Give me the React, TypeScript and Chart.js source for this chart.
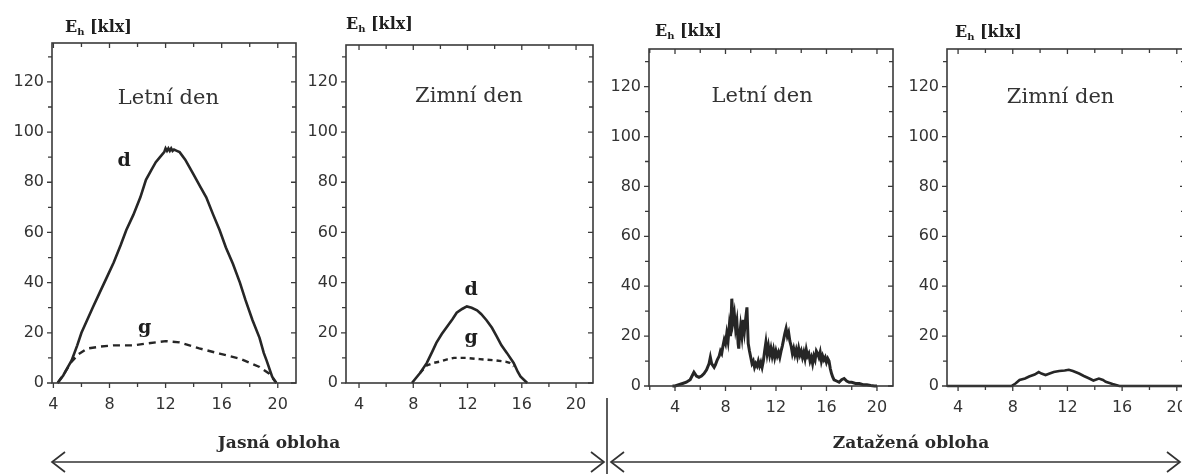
import React, { useEffect, useRef } from 'react';
import { Chart, registerables } from 'chart.js';

Chart.register(...registerables);

type Pt = [number, number];

// ---------- tick values ----------
const yTickLabels = [0, 20, 40, 60, 80, 100, 120];
const yMinorTicks = [10, 30, 50, 70, 90, 110, 130];
const xTickLabels = [4, 8, 12, 16, 20];
const xMinorTicks = [2, 6, 10, 14, 18];

// ---------- texts ----------
const axisMain = 'E';
const axisSub = 'h';
const axisUnit = ' [klx]';
const panelTitles = ['Letní den', 'Zimní den', 'Letní den', 'Zimní den'];
const curveLabels = ['d', 'g'];
const groupLabels = ['Jasná obloha', 'Zatažená obloha'];

// ---------- data: [hour, klx] ----------
const clearSummerDirect: Pt[] = [
  [4.3, 0], [4.7, 3], [5.0, 6], [5.3, 9], [5.7, 15], [6.0, 20], [6.4, 25], [6.8, 30],
  [7.3, 36], [7.8, 42], [8.3, 48], [8.8, 55], [9.2, 61], [9.7, 67], [10.2, 74], [10.6, 81],
  [11.0, 85], [11.3, 88], [11.6, 90], [11.9, 92], [12.0, 93.5], [12.1, 92.5], [12.2, 93.5],
  [12.3, 92.5], [12.4, 93.5], [12.5, 92.5], [12.6, 93], [12.8, 92.5], [13.0, 92],
  [13.4, 89], [13.7, 86], [14.0, 83], [14.5, 78], [14.9, 74], [15.4, 67], [15.85, 61],
  [16.3, 54], [16.8, 47.5], [17.3, 40], [17.7, 33], [18.2, 25], [18.7, 18], [19.0, 12],
  [19.2, 9], [19.6, 2.5], [19.9, 0],
];
const clearSummerDiffuse: Pt[] = [
  [4.3, 0], [4.8, 4], [5.3, 8.5], [5.8, 11.5], [6.4, 13.7], [7.3, 14.5], [8.3, 15],
  [9.7, 15], [10.6, 15.7], [12.0, 16.7], [13.0, 16.2], [14.4, 13.8], [15.85, 11.7],
  [17.3, 9.7], [18.7, 6.4], [19.4, 3.7], [19.9, 0],
];
const clearWinterDirect: Pt[] = [
  [7.9, 0], [8.2, 2], [8.5, 4], [9.0, 8], [9.4, 12.5], [9.7, 16], [10.1, 19.5],
  [10.5, 22.5], [10.9, 25.5], [11.2, 28], [11.6, 29.5], [11.95, 30.5], [12.3, 30],
  [12.7, 29], [13.0, 27.5], [13.4, 25], [13.8, 22], [14.15, 18.6], [14.5, 15], [14.9, 12],
  [15.4, 8], [15.7, 4.5], [15.9, 2.6], [16.4, 0],
];
const clearWinterDiffuse: Pt[] = [
  [8.5, 4], [9.0, 7], [9.5, 8], [10.0, 8.6], [10.5, 9.4], [11.0, 10], [11.9, 10],
  [12.9, 9.5], [14.1, 9], [14.8, 8.5], [15.1, 8], [15.4, 6.6],
];
const overcastSummer: Pt[] = [
  [3.8, 0], [4.0, 0], [4.3, 0.5], [4.6, 1], [4.9, 1.5], [5.2, 2.5], [5.4, 4.5], [5.5, 5.5],
  [5.7, 4], [5.9, 3.5], [6.1, 4], [6.3, 5], [6.5, 6.5], [6.7, 9], [6.8, 11.5], [6.9, 9],
  [7.1, 7.5], [7.2, 8.5], [7.35, 10.5], [7.5, 12], [7.6, 14], [7.7, 13], [7.8, 16],
  [7.9, 18.5], [8.0, 17], [8.1, 21], [8.2, 18], [8.3, 24], [8.4, 20], [8.5, 35],
  [8.55, 30], [8.6, 26], [8.7, 29], [8.8, 23], [8.9, 26], [9.0, 17], [9.05, 15], [9.1, 19],
  [9.2, 24], [9.3, 20], [9.4, 26.5], [9.5, 22], [9.6, 27], [9.7, 31.5], [9.75, 24],
  [9.8, 17], [9.9, 14], [10.0, 11.5], [10.1, 9], [10.2, 10], [10.3, 7.5], [10.4, 9],
  [10.5, 8], [10.6, 10], [10.7, 8], [10.8, 9.5], [10.9, 7.5], [11.0, 10], [11.1, 14],
  [11.2, 17.5], [11.3, 13], [11.4, 16], [11.5, 12.5], [11.6, 15], [11.7, 12], [11.8, 14.5],
  [11.9, 11.5], [12.0, 14], [12.1, 12], [12.2, 13.5], [12.3, 11.5], [12.4, 14], [12.5, 16],
  [12.6, 18.5], [12.7, 21], [12.8, 23], [12.9, 20], [13.0, 21.5], [13.1, 18], [13.2, 16],
  [13.3, 13], [13.4, 15], [13.5, 12.5], [13.6, 14.5], [13.7, 12], [13.8, 15], [13.9, 12.5],
  [14.0, 14], [14.1, 11.5], [14.2, 13.5], [14.3, 11], [14.4, 14.5], [14.5, 12], [14.6, 13],
  [14.7, 10], [14.8, 11.5], [14.9, 9], [15.0, 12], [15.1, 10.5], [15.2, 14], [15.3, 13],
  [15.4, 11.5], [15.5, 13.5], [15.6, 10], [15.7, 12], [15.8, 10.5], [15.9, 11.5],
  [16.0, 9.5], [16.1, 11], [16.2, 10], [16.3, 7], [16.4, 5], [16.5, 3.5], [16.6, 2.5],
  [16.8, 2], [17.0, 1.5], [17.2, 2.5], [17.4, 3], [17.6, 2], [17.8, 1.5], [18.0, 1.5],
  [18.3, 1], [18.6, 1], [18.9, 0.5], [19.2, 0.5], [19.5, 0.2], [19.8, 0], [20.0, 0],
];
const overcastWinter: Pt[] = [
  [3.2, 0], [7.9, 0], [8.2, 1], [8.5, 2.4], [8.9, 3], [9.2, 3.8], [9.6, 4.6], [9.9, 5.6],
  [10.1, 5], [10.4, 4.4], [10.7, 5], [11.0, 5.6], [11.4, 6], [11.8, 6.2], [12.1, 6.5],
  [12.4, 6], [12.85, 5], [13.2, 4], [13.6, 3], [13.9, 2.2], [14.3, 3], [14.6, 2.4],
  [14.8, 1.7], [15.3, 0.8], [15.8, 0], [20.6, 0],
];

// ---------- layout ----------
const Y_AXIS_W = 50;
const X_AXIS_H = 34;
const PAD_R = 10;
const INK = '#262626';
const TEXT = '#333333';

type Series = { points: Pt[]; dash: number[]; width: number };
type Note = { x: number; y: number; text: string; font: string };
type PanelCfg = {
  area: { l: number; r: number; t: number; b: number };
  xMin: number; xMax: number; yMax: number;
  titleDx: number; titleDy: number;
  series: Series[];
  notes: Note[];
};

const TITLE_FONT = '21px "DejaVu Serif"';
const LABEL_FONT = 'bold 19px "DejaVu Serif"';

const panels: PanelCfg[] = [
  {
    area: { l: 52, r: 296, t: 43, b: 383 }, xMin: 3.9, xMax: 21.3, yMax: 135.5,
    titleDx: 13, titleDy: -11,
    series: [
      { points: clearSummerDirect, dash: [], width: 2.6 },
      { points: clearSummerDiffuse, dash: [7, 5], width: 2.4 },
    ],
    notes: [
      { x: 12.2, y: 113.5, text: panelTitles[0], font: TITLE_FONT },
      { x: 9.05, y: 88.5, text: curveLabels[0], font: LABEL_FONT },
      { x: 10.5, y: 22, text: curveLabels[1], font: LABEL_FONT },
    ],
  },
  {
    area: { l: 346, r: 593, t: 45, b: 383 }, xMin: 3.04, xMax: 21.25, yMax: 134.7,
    titleDx: 0, titleDy: -16,
    series: [
      { points: clearWinterDirect, dash: [], width: 2.6 },
      { points: clearWinterDiffuse, dash: [5, 4], width: 2.4 },
    ],
    notes: [
      { x: 12.1, y: 114, text: panelTitles[1], font: TITLE_FONT },
      { x: 12.26, y: 37, text: curveLabels[0], font: LABEL_FONT },
      { x: 12.26, y: 18, text: curveLabels[1], font: LABEL_FONT },
    ],
  },
  {
    area: { l: 649, r: 893, t: 49, b: 386 }, xMin: 1.94, xMax: 21.27, yMax: 135.1,
    titleDx: 6, titleDy: -13,
    series: [{ points: overcastSummer, dash: [], width: 3 }],
    notes: [{ x: 10.9, y: 115.9, text: panelTitles[2], font: TITLE_FONT }],
  },
  {
    area: { l: 947, r: 1185, t: 49, b: 386 }, xMin: 3.19, xMax: 20.6, yMax: 135.1,
    titleDx: 8, titleDy: -12,
    series: [{ points: overcastWinter, dash: [], width: 2.6 }],
    notes: [{ x: 11.5, y: 115.5, text: panelTitles[3], font: TITLE_FONT }],
  },
];

const framePlugin = {
  id: 'frameTicks',
  afterDraw(chart: any, _args: any, opts: any) {
    const { ctx, chartArea: a, scales } = chart;
    const xs = scales.x;
    const ys = scales.y;
    ctx.save();
    ctx.strokeStyle = '#3a3a3a';
    ctx.lineWidth = 1.6;
    ctx.strokeRect(a.left, a.top, a.right - a.left, a.bottom - a.top);
    ctx.lineWidth = 1.3;
    const xT = (vals: number[], len: number) => {
      vals.forEach((v) => {
        if (v < xs.min || v > xs.max) return;
        const px = xs.getPixelForValue(v);
        ctx.beginPath();
        ctx.moveTo(px, a.bottom); ctx.lineTo(px, a.bottom + len);
        ctx.moveTo(px, a.top); ctx.lineTo(px, a.top + len);
        ctx.stroke();
      });
    };
    const yT = (vals: number[], len: number) => {
      vals.forEach((v) => {
        if (v < ys.min || v > ys.max) return;
        const py = ys.getPixelForValue(v);
        ctx.beginPath();
        ctx.moveTo(a.left, py); ctx.lineTo(a.left - len, py);
        ctx.moveTo(a.right, py); ctx.lineTo(a.right - len, py);
        ctx.stroke();
      });
    };
    xT(xTickLabels, 5); xT(xMinorTicks, 4);
    yT(yTickLabels, 5); yT(yMinorTicks, 4);

    // axis title E_h [klx]
    ctx.fillStyle = '#1e1e1e';
    ctx.textBaseline = 'alphabetic';
    ctx.textAlign = 'left';
    let tx = a.left + opts.titleDx;
    const ty = a.top + opts.titleDy;
    ctx.font = 'bold 16px "DejaVu Serif"';
    ctx.fillText(axisMain, tx, ty);
    tx += ctx.measureText(axisMain).width;
    ctx.font = 'bold 10px "DejaVu Serif"';
    ctx.fillText(axisSub, tx, ty + 3);
    tx += ctx.measureText(axisSub).width;
    ctx.font = 'bold 16px "DejaVu Serif"';
    ctx.fillText(axisUnit, tx, ty);

    // notes in data coordinates
    ctx.textAlign = 'center';
    ctx.textBaseline = 'middle';
    (opts.notes as Note[]).forEach((n) => {
      ctx.font = n.font;
      ctx.fillStyle = n.font.startsWith('bold') ? '#1e1e1e' : TEXT;
      ctx.fillText(n.text, xs.getPixelForValue(n.x), ys.getPixelForValue(n.y));
    });
    ctx.restore();
  },
};

function Panel({ cfg }: { cfg: PanelCfg }) {
  const ref = useRef<HTMLCanvasElement>(null);
  const left = cfg.area.l - Y_AXIS_W;
  const width = cfg.area.r - cfg.area.l + Y_AXIS_W + PAD_R;
  const height = cfg.area.b + X_AXIS_H;

  useEffect(() => {
    const tickFont = { family: '"DejaVu Sans"', size: 16 };
    const chart = new Chart(ref.current!, {
      type: 'line',
      data: {
        datasets: cfg.series.map((s) => ({
          data: s.points.map(([x, y]) => ({ x, y })),
          borderColor: INK,
          borderWidth: s.width,
          borderDash: s.dash,
          pointRadius: 0,
          tension: 0,
          fill: false,
          clip: 6,
        })),
      },
      options: {
        animation: false,
        responsive: false,
        maintainAspectRatio: false,
        events: [],
        layout: { padding: { top: cfg.area.t, right: PAD_R, left: 0, bottom: 0 } },
        plugins: {
          legend: { display: false },
          tooltip: { enabled: false },
          frameTicks: { titleDx: cfg.titleDx, titleDy: cfg.titleDy, notes: cfg.notes },
        } as any,
        scales: {
          x: {
            type: 'linear',
            min: cfg.xMin,
            max: cfg.xMax,
            grid: { display: false, drawTicks: false },
            border: { display: false },
            ticks: { padding: 12, font: tickFont, color: TEXT, autoSkip: false, maxRotation: 0 },
            afterBuildTicks: (s: any) => { s.ticks = xTickLabels.map((v) => ({ value: v })); },
            afterFit: (s: any) => {
              s.height = X_AXIS_H;
              s.paddingLeft = 0;
              s.paddingRight = 0;
            },
          },
          y: {
            type: 'linear',
            min: 0,
            max: cfg.yMax,
            grid: { display: false, drawTicks: false },
            border: { display: false },
            ticks: { padding: 8, font: tickFont, color: TEXT, autoSkip: false },
            afterBuildTicks: (s: any) => { s.ticks = yTickLabels.map((v) => ({ value: v })); },
            afterFit: (s: any) => {
              s.width = Y_AXIS_W;
              s.paddingTop = 0;
              s.paddingBottom = 0;
            },
          },
        },
      } as any,
      plugins: [framePlugin],
    });
    return () => chart.destroy();
  }, []);

  return (
    <canvas
      ref={ref}
      width={width}
      height={height}
      style={{ position: 'absolute', left, top: 0, width, height }}
    />
  );
}

function Arrow({ x1, x2, y }: { x1: number; x2: number; y: number }) {
  return (
    <g stroke="#333" strokeWidth={1.7} fill="none">
      <line x1={x1} y1={y} x2={x2} y2={y} />
      <polyline points={`${x1 + 13},${y - 10} ${x1},${y} ${x1 + 13},${y + 10}`} />
      <polyline points={`${x2 - 13},${y - 10} ${x2},${y} ${x2 - 13},${y + 10}`} />
    </g>
  );
}

export default function App() {
  return (
    <div
      style={{
        position: 'absolute', left: 0, top: 0, width: 1182, height: 474,
        overflow: 'hidden', background: '#fff',
      }}
    >
      {panels.map((p, i) => (
        <Panel key={i} cfg={p} />
      ))}
      <svg width={1182} height={474} style={{ position: 'absolute', left: 0, top: 0 }}>
        <line x1={607} y1={398} x2={607} y2={474} stroke="#333" strokeWidth={1.6} />
        <Arrow x1={52} x2={604} y={462} />
        <Arrow x1={611} x2={1180} y={462} />
        <text x={279} y={448} textAnchor="middle" fontFamily="DejaVu Serif" fontWeight="bold" fontSize={17} fill="#2a2a2a">
          {groupLabels[0]}
        </text>
        <text x={911} y={448} textAnchor="middle" fontFamily="DejaVu Serif" fontWeight="bold" fontSize={17} fill="#2a2a2a">
          {groupLabels[1]}
        </text>
      </svg>
    </div>
  );
}
